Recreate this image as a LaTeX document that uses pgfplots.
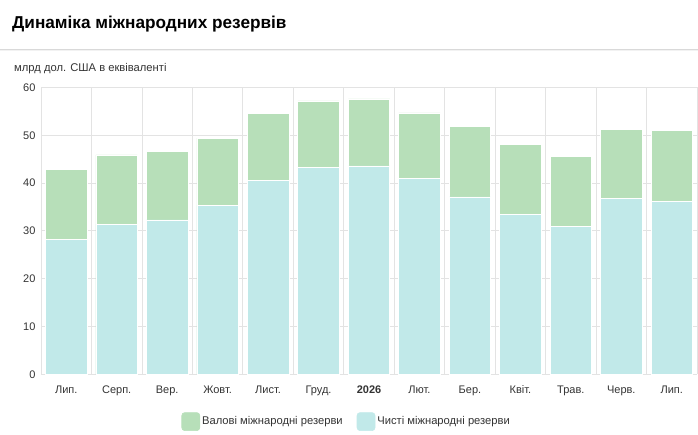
\documentclass[border=0pt]{standalone}
\usepackage{fontspec}
\setmainfont{Liberation Sans}
\usepackage{pgfplots}
\pgfplotsset{compat=1.18}
\definecolor{gross}{HTML}{B7DFB9}
\definecolor{net}{HTML}{C1E9E9}
\definecolor{gridc}{HTML}{E3E3E3}
\definecolor{txt}{HTML}{333333}
\begin{document}
\begin{tikzpicture}[x=1pt,y=1pt]
\path[use as bounding box] (0,0) rectangle (698,435);
\node[anchor=base west, font=\fontsize{17.2}{19}\selectfont\bfseries, text=black, inner sep=0] at (12,406) {Динаміка міжнародних резервів};
\fill[gray!10] (0,383.5) rectangle (698,386);
\draw[gray!30, line width=1pt] (0,385) -- (698,385);
\node[anchor=base west, font=\fontsize{11.2}{12}\selectfont, text=txt, inner sep=0] at (14,363) {млрд дол. США в еквіваленті};
\begin{axis}[
  at={(41pt,60.7pt)}, anchor=south west, scale only axis,
  width=656pt, height=286.8pt,
  xmin=-0.5, xmax=12.5, ymin=0, ymax=60,
  ytick={0,10,...,60},
  xtick={0,...,12},
  xticklabels={Лип.,Серп.,Вер.,Жовт.,Лист.,Груд.,\textbf{2026},Лют.,Бер.,Квіт.,Трав.,Черв.,Лип.},
  minor xtick={-0.5,0.5,...,12.5},
  xminorgrids, ymajorgrids,
  grid style={gridc, line width=0.8pt},
  minor grid style={gridc, line width=0.8pt},
  major tick length=0pt, minor tick length=0pt,
  tick style={draw=none},
  axis line style={draw=none},
  /pgf/number format/assume math mode=true,
  ticklabel style={font=\fontsize{11}{12}\selectfont, text=txt},
  xticklabel style={yshift=-8pt},
  yticklabel style={xshift=-2pt},
  ybar, bar width=41.5pt,
  legend style={at={(0.466,-0.165)}, anchor=center, draw=none, fill=none,
    legend columns=2, font=\fontsize{11.2}{12}\selectfont, text=txt,
    /tikz/every even column/.append style={column sep=12pt}},
  legend cell align=left,
]
\addplot[bar shift=0pt, fill=gross, draw=white, line width=0.6pt,
  legend image code/.code={\fill[gross, rounded corners=3pt] (0pt,-9pt) rectangle (18pt,9pt);}]
  coordinates {(0,42.9) (1,45.9) (2,46.6) (3,49.4) (4,54.6) (5,57.2) (6,57.6) (7,54.7) (8,51.9) (9,48.1) (10,45.6) (11,51.2) (12,51.1)};
\addlegendentry{Валові міжнародні резерви}
\addplot[bar shift=0pt, fill=net, draw=white, line width=0.6pt,
  legend image code/.code={\fill[net, rounded corners=3pt] (0pt,-9pt) rectangle (18pt,9pt);}]
  coordinates {(0,28.2) (1,31.4) (2,32.3) (3,35.3) (4,40.6) (5,43.2) (6,43.6) (7,40.9) (8,37.1) (9,33.4) (10,31.0) (11,36.8) (12,36.2)};
\addlegendentry{Чисті міжнародні резерви}
\end{axis}
\end{tikzpicture}
\end{document}
